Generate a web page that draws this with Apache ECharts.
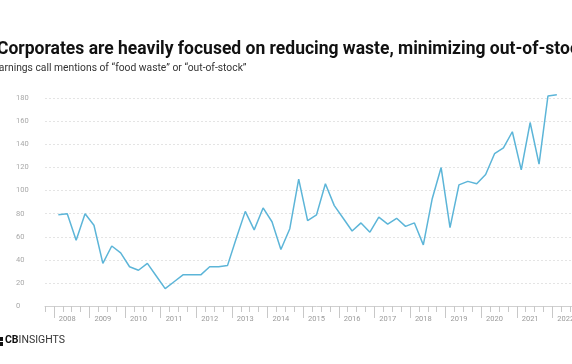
<!DOCTYPE html>
<html>
<head>
<meta charset="utf-8">
<script src="https://cdn.jsdelivr.net/npm/echarts@6/dist/echarts.min.js"></script>
<style>html,body{margin:0;padding:0;background:#fff;overflow:hidden;width:572px;height:364px;position:relative}#c{position:absolute;left:-8px;top:0;width:600px;height:364px}</style>
</head>
<body>
<div id="c"></div>
<script>
// quarters from 2007Q4 (empty lead) to 2022Q4
const years = [2008,2009,2010,2011,2012,2013,2014,2015,2016,2017,2018,2019,2020,2021,2022];
const quarterLabels = ['2007Q4'];
years.forEach(y => { for (let q = 1; q <= 4; q++) quarterLabels.push(y + 'Q' + q); });

// mentions, 2008Q1 .. 2022Q1
const mentions = [
  79, 80, 57, 80,
  70, 37, 52, 46,
  34, 31, 37, 26,
  15, 21, 27, 27,
  27, 34, 34, 35,
  59, 82, 66, 85,
  73, 49, 67, 110,
  74, 79, 106, 87,
  76, 65, 72, 64,
  77, 71, 76, 69,
  72, 53, 93, 120,
  68, 105, 108, 106,
  114, 132, 137, 151,
  118, 159, 123, 182,
  183
];
const yTicks = [0,20,40,60,80,100,120,140,160,180];

const seriesData = quarterLabels.map((q, i) => (i >= 1 && i - 1 < mentions.length) ? mentions[i - 1] : null);

const chart = echarts.init(document.getElementById('c'), null, {renderer: 'canvas'});
const font = 'Roboto, "Noto Sans", sans-serif';
chart.setOption({
  animation: false,
  title: [{
    text: 'Corporates are heavily focused on reducing waste, minimizing out-of-stock',
    left: 5, top: 41, padding: 0,
    textStyle: {fontFamily: font, fontSize: 17.5, fontWeight: 'bold', color: '#111'}
  }, {
    text: 'Earnings call mentions of \u201cfood waste\u201d or \u201cout-of-stock\u201d',
    left: 1, top: 63, padding: 0,
    textStyle: {fontFamily: font, fontSize: 10.3, fontWeight: 'normal', color: '#333'}
  }],
  grid: {left: 53, width: 543, top: 98.3, bottom: 58, containLabel: false},
  xAxis: [{
    type: 'category',
    data: quarterLabels,
    boundaryGap: true,
    axisLine: {lineStyle: {color: '#d0d0d0', width: 1}},
    axisTick: {show: true, interval: 0, length: 6, lineStyle: {color: '#c8c8c8'}},
    axisLabel: {
      interval: (i) => i % 4 === 2,
      formatter: (v) => v.slice(0, 4),
      fontFamily: font, fontSize: 7.5, color: '#9a9a9a', margin: 9
    },
    splitLine: {show: false}
  }, {
    type: 'category',
    data: quarterLabels,
    boundaryGap: true,
    position: 'bottom',
    axisLine: {show: false},
    axisTick: {show: true, interval: (i) => i % 4 === 1, length: 12, lineStyle: {color: '#c8c8c8'}},
    axisLabel: {show: false},
    splitLine: {show: false}
  }],
  yAxis: {
    type: 'value',
    min: 0, max: 180, interval: 20,
    axisLine: {show: false},
    axisTick: {show: false},
    axisLabel: {
      align: 'left', margin: 29,
      formatter: (v) => yTicks.includes(v) ? String(v) : '',
      fontFamily: font, fontSize: 7.5, color: '#a8a8a8'
    },
    splitLine: {lineStyle: {color: '#e4e4e4', type: [2, 2], width: 1}}
  },
  series: [{
    type: 'line',
    data: seriesData,
    xAxisIndex: 0,
    symbol: 'none',
    clip: false,
    connectNulls: false,
    lineStyle: {color: '#5cb5d8', width: 1.5}
  }],
  graphic: [
    {type: 'rect', left: 7, top: 337, shape: {width: 4, height: 4}, style: {fill: '#111'}},
    {type: 'rect', left: 7, top: 342, shape: {width: 4, height: 4}, style: {fill: '#111'}},
    {type: 'text', left: 13, top: 335, style: {
      text: '{b|CB}{n|INSIGHTS}',
      rich: {
        b: {fontFamily: font, fontSize: 10.5, fontWeight: 'bold', fill: '#111'},
        n: {fontFamily: font, fontSize: 10.5, fontWeight: 'normal', fill: '#333'}
      }
    }}
  ]
});
</script>
</body>
</html>
